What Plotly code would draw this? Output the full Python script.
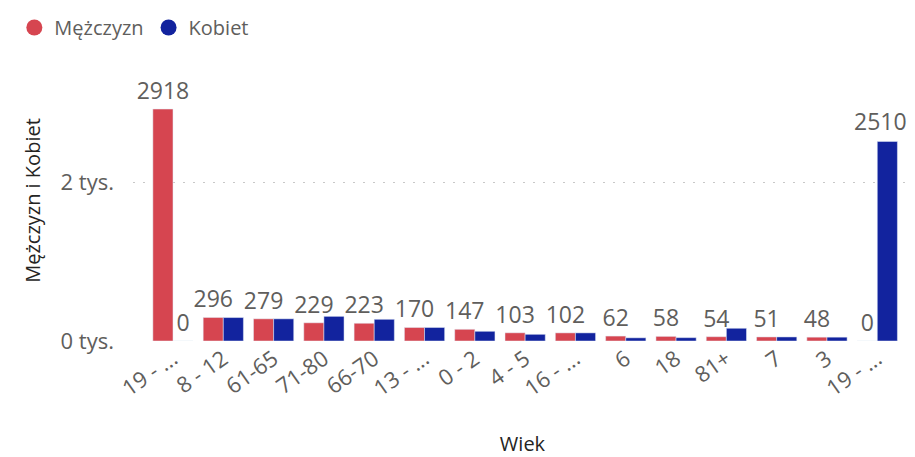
import plotly.graph_objects as go

age_labels = ["19 - ...", "8 - 12", "61-65", "71-80", "66-70", "13 - ...", "0 - 2", "4 - 5",
              "16 - ...", "6", "18", "81+", "7", "3", "19 - ..."]
men = [2918, 296, 279, 229, 223, 170, 147, 103, 102, 62, 58, 54, 51, 48, 0]
women = [0, 295, 279, 310, 273, 170, 122, 84, 102, 40, 42, 160, 51, 48, 2510]

red = "#D64550"
blue = "#12239E"
grey = "#605E5C"
dark = "#252423"
font = "Segoe UI, Open Sans, sans-serif"

idx = list(range(len(age_labels)))
# Power BI hides the women labels that collide, only first one is drawn on the bar,
# the last one is nudged left to stay inside the visual
women_text = [str(women[0])] + [""] * (len(women) - 1)

fig = go.Figure()
fig.add_trace(go.Bar(x=idx, y=men, name="Mężczyzn", marker_color=red, showlegend=False,
                     text=[str(v) for v in men], textposition="outside", cliponaxis=False,
                     constraintext="none",
                     textfont=dict(size=23, color=grey, family=font)))
fig.add_trace(go.Bar(x=idx, y=women, name="Kobiet", marker_color=blue, showlegend=False,
                     text=women_text, textposition="outside", cliponaxis=False,
                     constraintext="none",
                     textfont=dict(size=23, color=grey, family=font)))
fig.add_annotation(x=idx[-1], y=women[-1], text=str(women[-1]), showarrow=False,
                   xshift=3, yshift=2, yanchor="bottom",
                   font=dict(size=23, color=grey, family=font))
# circle legend entries
fig.add_trace(go.Scatter(x=[None], y=[None], mode="markers", name="Mężczyzn",
                         marker=dict(color=red, size=20, symbol="circle")))
fig.add_trace(go.Scatter(x=[None], y=[None], mode="markers", name="Kobiet",
                         marker=dict(color=blue, size=20, symbol="circle")))

# page body has an 8px margin, so the figure is a bit smaller than the window
fig.update_layout(
    width=907, height=449,
    margin=dict(l=125, r=3, t=52, b=116),
    plot_bgcolor="white", paper_bgcolor="white",
    barmode="group", bargap=0.2, bargroupgap=0,
    uniformtext=dict(minsize=23, mode="show"),
    font=dict(family=font, color=grey),
    legend=dict(orientation="h", xref="container", yref="container", x=0.007, y=1.0,
                xanchor="left", yanchor="top", font=dict(size=20, color=grey),
                itemwidth=30, tracegroupgap=0),
    xaxis=dict(tickmode="array", tickvals=idx, ticktext=age_labels, tickangle=-35,
               range=[-0.795, 14.69], showgrid=False, zeroline=False, showline=False,
               tickfont=dict(size=22, color=grey),
               title=dict(text="Wiek", font=dict(size=20, color=dark), standoff=37)),
    yaxis=dict(range=[0, 3535], tickvals=[0, 2000], ticktext=["0 tys.", "2 tys."],
               showgrid=True, gridcolor="#C8C8C8", griddash="2px,8px", gridwidth=1,
               zeroline=False, showline=False, ticks="", ticklabelstandoff=18,
               tickfont=dict(size=22, color=grey),
               title=dict(text="Mężczyzn i Kobiet", font=dict(size=20, color=dark), standoff=14)),
)

fig.write_html("out.html")
